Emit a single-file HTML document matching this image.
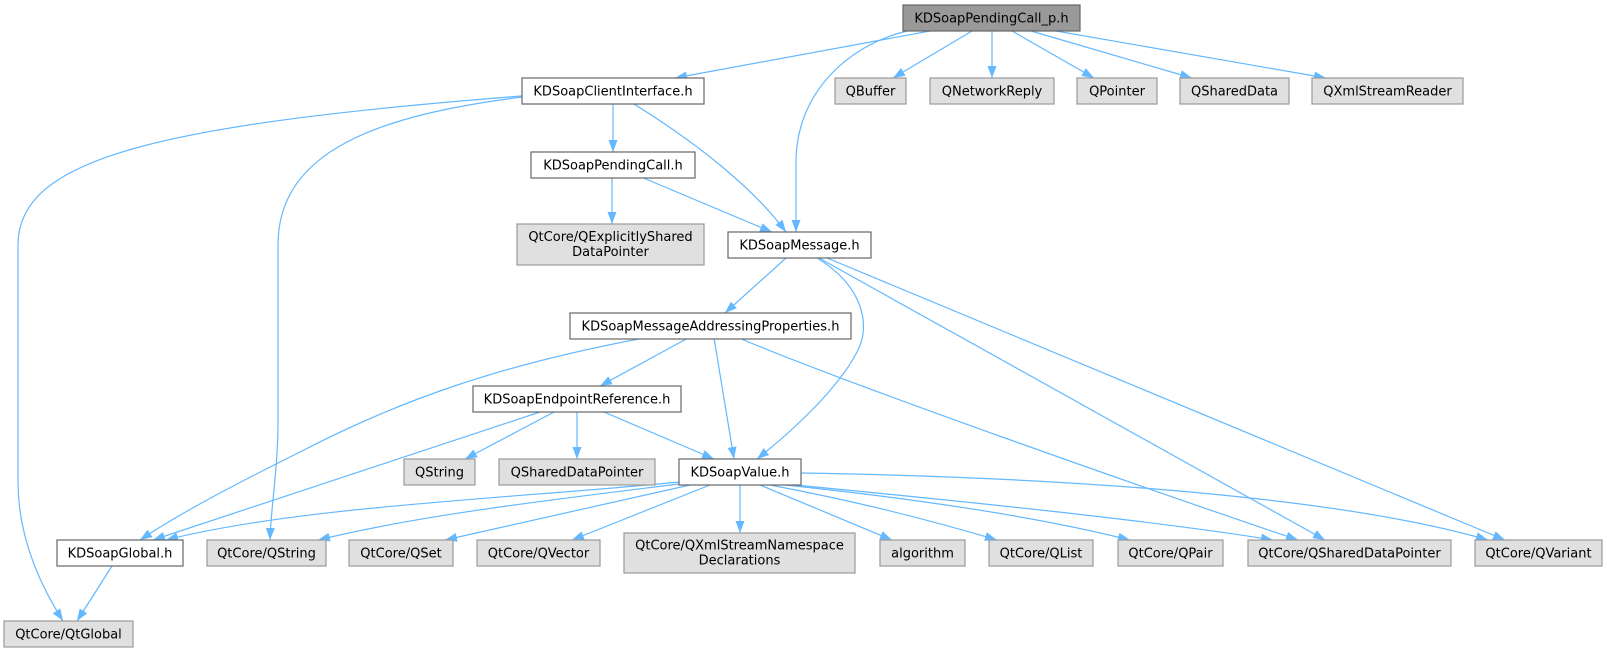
<!DOCTYPE html>
<html>
<head>
<meta charset="utf-8">
<style>
html,body{margin:0;padding:0;background:#fff;}
svg{display:block;}
text{font-family:"DejaVu Sans","Liberation Sans",sans-serif;font-size:13px;fill:#000;text-anchor:middle;}
.e{fill:none;stroke:#63b8ff;stroke-width:1.2;marker-end:url(#ah);}
.w{fill:#fff;stroke:#666;stroke-width:1.2;}
.g{fill:#e0e0e0;stroke:#999;stroke-width:1.2;}
.r{fill:#999;stroke:#666;stroke-width:1.2;}
</style>
</head>
<body>
<svg width="1607" height="652" viewBox="0 0 1607 652" xmlns="http://www.w3.org/2000/svg">
<defs>
<marker id="ah" viewBox="0 0 12 9" refX="12" refY="4.5" markerWidth="12" markerHeight="9" markerUnits="userSpaceOnUse" orient="auto">
<path d="M0,0 L12,4.5 L0,9 z" fill="#63b8ff"/>
</marker>
</defs>

<!-- edges -->
<path class="e" d="M930,31 L675,78"/>
<path class="e" d="M907,31 C845,46 797,95 796,160 L796,232"/>
<path class="e" d="M972,31 L893,78"/>
<path class="e" d="M992,31 L992,78"/>
<path class="e" d="M1012,31 L1094,78"/>
<path class="e" d="M1031,31 L1192,78"/>
<path class="e" d="M1056,31 L1326,78"/>
<path class="e" d="M522,96 C150,125 18,160 18,245 L18,482 C18,540 42,588 63,621"/>
<path class="e" d="M522,97 C380,115 278,150 278,245 L278,420 C278,470 271,505 270,540"/>
<path class="e" d="M613,104 L613,152"/>
<path class="e" d="M634,104 C700,145 755,190 786,232"/>
<path class="e" d="M612,177 L612,224"/>
<path class="e" d="M641,177 L772,232"/>
<path class="e" d="M786,258 L725,313"/>
<path class="e" d="M817,258 C862,285 872,325 857,352 C840,385 800,425 757,459"/>
<path class="e" d="M819,258 L1325,540"/>
<path class="e" d="M827,258 L1505,540"/>
<path class="e" d="M644,338 C500,365 400,400 300,452 C240,482 185,510 140,540"/>
<path class="e" d="M688,338 L600,386"/>
<path class="e" d="M714,338 L734,459"/>
<path class="e" d="M739,338 C850,385 1150,490 1298,540"/>
<path class="e" d="M540,412 L153,540"/>
<path class="e" d="M554,412 L465,459"/>
<path class="e" d="M577,412 L577,459"/>
<path class="e" d="M604,412 L714,459"/>
<path class="e" d="M679,482 C520,498 300,506 166,540"/>
<path class="e" d="M679,484 C550,500 420,515 318,540"/>
<path class="e" d="M690,485 L445,540"/>
<path class="e" d="M710,485 L572,540"/>
<path class="e" d="M740,485 L740,533"/>
<path class="e" d="M760,485 L892,540"/>
<path class="e" d="M770,485 C850,500 930,520 997,540"/>
<path class="e" d="M785,485 C900,497 1030,515 1130,540"/>
<path class="e" d="M795,485 C950,500 1150,520 1273,540"/>
<path class="e" d="M801,473 C1100,478 1350,500 1488,540"/>
<path class="e" d="M112,566 L77,621"/>

<!-- nodes -->
<rect class="r" x="903" y="5" width="177" height="26"/><text x="991.5" y="22.5">KDSoapPendingCall_p.h</text>

<rect class="w" x="522" y="78" width="182" height="26"/><text x="613" y="95.5">KDSoapClientInterface.h</text>
<rect class="g" x="835" y="78" width="71" height="26"/><text x="870.5" y="95.5">QBuffer</text>
<rect class="g" x="930" y="78" width="124" height="26"/><text x="992" y="95.5">QNetworkReply</text>
<rect class="g" x="1077" y="78" width="80" height="26"/><text x="1117" y="95.5">QPointer</text>
<rect class="g" x="1180" y="78" width="109" height="26"/><text x="1234.5" y="95.5">QSharedData</text>
<rect class="g" x="1312" y="78" width="151" height="26"/><text x="1387.5" y="95.5">QXmlStreamReader</text>

<rect class="w" x="531" y="152" width="164" height="26"/><text x="613" y="169.5">KDSoapPendingCall.h</text>

<rect class="g" x="517" y="224" width="187" height="41"/><text x="610.5" y="241">QtCore/QExplicitlyShared</text><text x="610.5" y="256">DataPointer</text>
<rect class="w" x="728" y="232" width="143" height="26"/><text x="799.5" y="249.5">KDSoapMessage.h</text>

<rect class="w" x="570" y="313" width="281" height="26"/><text x="710.5" y="330.5">KDSoapMessageAddressingProperties.h</text>

<rect class="w" x="473" y="386" width="208" height="26"/><text x="577" y="403.5">KDSoapEndpointReference.h</text>

<rect class="g" x="404" y="459" width="71" height="26"/><text x="439.5" y="476.5">QString</text>
<rect class="g" x="499" y="459" width="156" height="26"/><text x="577" y="476.5">QSharedDataPointer</text>
<rect class="w" x="679" y="459" width="122" height="26"/><text x="740" y="476.5">KDSoapValue.h</text>

<rect class="w" x="57" y="540" width="126" height="26"/><text x="120" y="557.5">KDSoapGlobal.h</text>
<rect class="g" x="207" y="540" width="119" height="26"/><text x="266.5" y="557.5">QtCore/QString</text>
<rect class="g" x="349" y="540" width="104" height="26"/><text x="401" y="557.5">QtCore/QSet</text>
<rect class="g" x="477" y="540" width="123" height="26"/><text x="538.5" y="557.5">QtCore/QVector</text>
<rect class="g" x="624" y="533" width="231" height="40"/><text x="739.5" y="549.5">QtCore/QXmlStreamNamespace</text><text x="739.5" y="564.5">Declarations</text>
<rect class="g" x="880" y="540" width="85" height="26"/><text x="922.5" y="557.5">algorithm</text>
<rect class="g" x="989" y="540" width="104" height="26"/><text x="1041" y="557.5">QtCore/QList</text>
<rect class="g" x="1118" y="540" width="105" height="26"/><text x="1170.5" y="557.5">QtCore/QPair</text>
<rect class="g" x="1248" y="540" width="203" height="26"/><text x="1349.5" y="557.5">QtCore/QSharedDataPointer</text>
<rect class="g" x="1475" y="540" width="127" height="26"/><text x="1538.5" y="557.5">QtCore/QVariant</text>

<rect class="g" x="4" y="621" width="129" height="26"/><text x="68.5" y="638.5">QtCore/QtGlobal</text>
</svg>
</body>
</html>
